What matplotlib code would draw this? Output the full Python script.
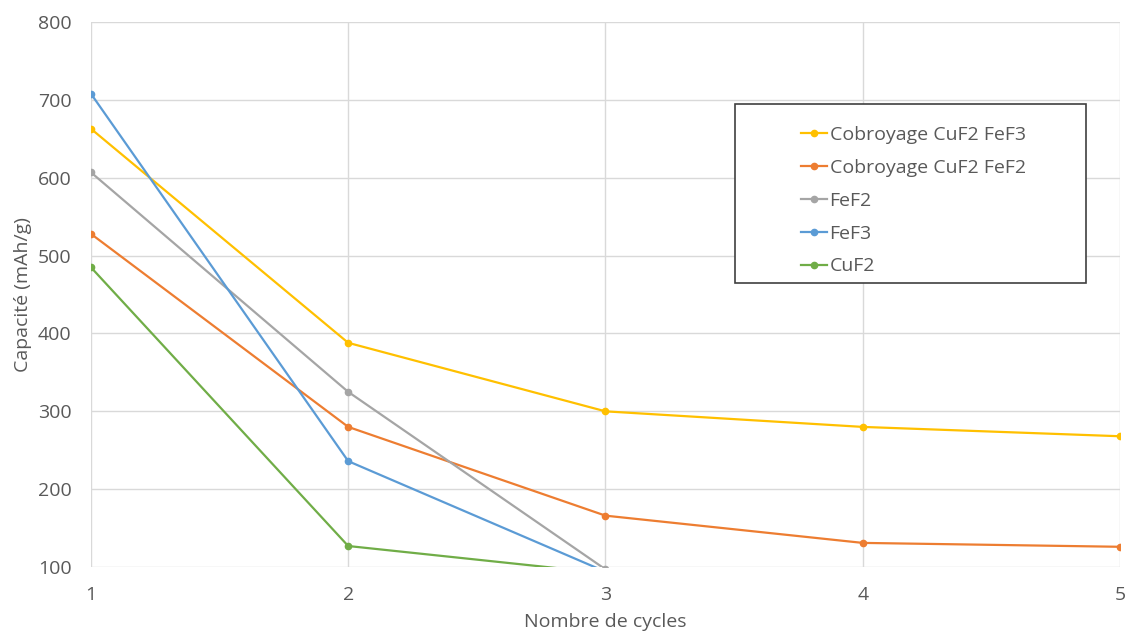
import matplotlib.pyplot as plt
from matplotlib.patches import Rectangle

plt.rcParams['font.family'] = ['Open Sans', 'DejaVu Sans']

# data (values below 100 are off-axis, estimated)
cycles = [1, 2, 3, 4, 5]
cobroyage_fef3 = [663, 388, 300, 280, 268]
cobroyage_fef2 = [528, 280, 166, 131, 126]
fef2 = [607, 325, 97]
fef3 = [708, 236, 94]
cuf2 = [485, 127, 92]

series = [
    ("Cobroyage CuF2 FeF3", cobroyage_fef3, "#FFC000"),
    ("Cobroyage CuF2 FeF2", cobroyage_fef2, "#ED7D31"),
    ("FeF2", fef2, "#A5A5A5"),
    ("FeF3", fef3, "#5B9BD5"),
    ("CuF2", cuf2, "#70AD47"),
]

fig = plt.figure(figsize=(11.27, 6.32), dpi=100)
ax = fig.add_axes([0.0807, 0.1028, 0.9131, 0.8622])

for name, vals, col in series:
    ax.plot(cycles[:len(vals)], vals, color=col, lw=1.6, marker="o", ms=4.5, label=name)

ax.set_xlim(1, 5)
ax.set_ylim(100, 800)
ax.set_xticks(cycles)
ax.set_yticks(range(100, 801, 100))
ax.grid(True, color="#D9D9D9", lw=1)
ax.set_axisbelow(True)
for s in ax.spines.values():
    s.set_visible(False)
ax.tick_params(length=0, labelsize=14, colors="#595959")
ax.tick_params(axis="y", pad=14)
ax.tick_params(axis="x", pad=14)

ax.set_ylabel("Capacité (mAh/g)", fontsize=14, color="#595959")
ax.yaxis.set_label_coords(-0.057, 0.5)
ax.set_xlabel("Nombre de cycles", fontsize=14, color="#595959")
ax.xaxis.set_label_coords(0.5, -0.085)
ax.xaxis.label.set_va("top")

# legend box
ax.add_patch(Rectangle((0.626, 0.521), 0.341, 0.3285, transform=ax.transAxes,
                       fill=True, facecolor="white", edgecolor="#404040", lw=1.2,
                       zorder=5))
leg = ax.legend(loc="upper left", bbox_to_anchor=(0.69, 0.809), frameon=False,
                fontsize=14, handlelength=1.35, handletextpad=0.12,
                labelspacing=0.76, borderpad=0, borderaxespad=0)
leg.set_zorder(6)
for t in leg.get_texts():
    t.set_color("#595959")

fig.savefig("out.png", dpi=100)
